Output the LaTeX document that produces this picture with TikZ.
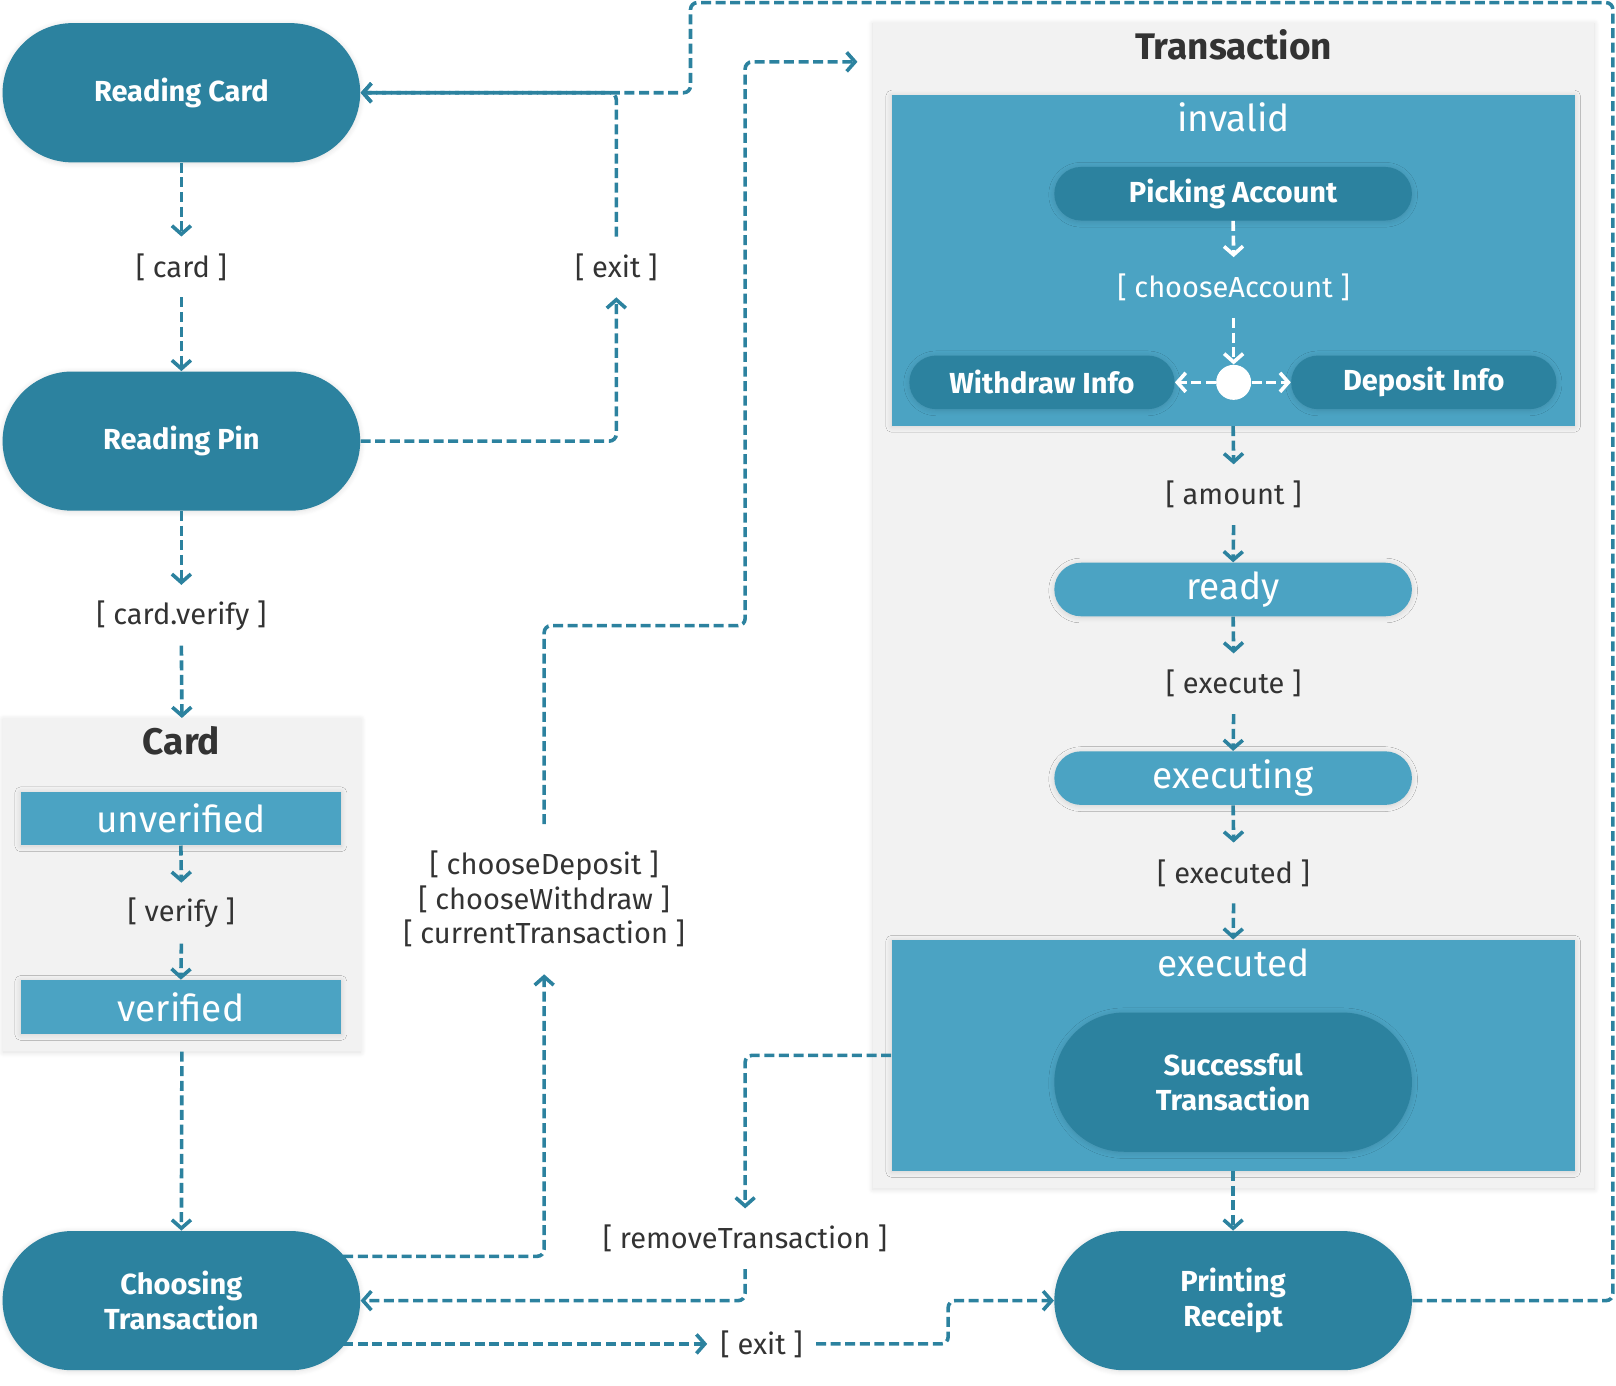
\documentclass[tikz,border=0pt]{standalone}
\usepackage{fontspec}
\setmainfont{Fira Sans}
\usetikzlibrary{shapes.misc,arrows.meta,shadows.blur}
\definecolor{teal1}{RGB}{44,130,159}
\definecolor{lblue}{RGB}{75,163,195}
\definecolor{cgray}{RGB}{242,242,242}
\definecolor{dtext}{RGB}{51,51,51}
\begin{document}
\begin{tikzpicture}[x=0.5153pt,y=-0.5153pt,
  shad/.style={blur shadow={shadow blur steps=12, shadow blur radius=2.8pt, shadow xshift=0pt, shadow yshift=-0.5pt, shadow opacity=13}},
  stad/.style={rounded rectangle, fill=teal1, text=white, font=\bfseries\fontsize{14.5}{17.5}\selectfont, align=center, inner sep=0pt, shad},
  bigstad/.style={stad, minimum width=178.8pt, minimum height=69.6pt},
  smallstad/.style={stad, minimum width=178.8pt, minimum height=26.8pt},
  sidestad/.style={stad, minimum width=132.6pt, minimum height=26.8pt},
  lightstad/.style={smallstad, fill=lblue, font=\fontsize{18.5}{22}\selectfont},
  staterect/.style={rectangle, fill=lblue, text=white, font=\fontsize{18.5}{22}\selectfont, inner sep=0pt, shad},
  container/.style={rectangle, fill=cgray, inner sep=0pt, shad},
  regiontitle/.style={text=white, font=\fontsize{18.5}{22}\selectfont, inner sep=0pt},
  boxtitle/.style={text=dtext, font=\bfseries\fontsize{18.5}{22}\selectfont, inner sep=0pt},
  guard/.style={text=dtext, font=\fontsize{14.5}{17.3}\selectfont, minimum height=30pt, inner ysep=0pt, inner xsep=4pt, align=center},
  wguard/.style={guard, text=white},
  conn/.style={draw=teal1, line width=1.8pt, dash pattern=on 5pt off 2.3pt, rounded corners=3.5pt, -{Straight Barb[length=4.2pt,width=9.5pt]}},
  wconn/.style={conn, draw=white}
]
\useasboundingbox (0,0) rectangle (1568,1344);

% containers
\node[container, minimum width=178.8pt, minimum height=166.4pt] (card) at (176.5,858.5) {};
\node[container, minimum width=360.7pt, minimum height=582.8pt] (trans) at (1197,587.5) {};
\node[staterect, minimum width=341.6pt, minimum height=165.4pt] (inv) at (1196.5,252.5) {};
\node[staterect, minimum width=341.6pt, minimum height=115.4pt] (exe) at (1196.5,1024) {};

% titles
\node[boxtitle] (cardtitle) at (176,719) {Card};
\node[boxtitle] (transtitle) at (1197,43) {Transaction};
\node[regiontitle] (invtitle) at (1197,114) {invalid};
\node[regiontitle] (exetitle) at (1197,934) {executed};

% left column
\node[bigstad] (rc) at (176,90) {Reading Card};
\node[bigstad] (rp) at (176,428) {Reading Pin};
\node[bigstad] (ct) at (176,1262) {Choosing\\Transaction};
\node[staterect, minimum width=160.3pt, minimum height=26.8pt] (unv) at (175.5,794) {unverified};
\node[staterect, minimum width=160.3pt, minimum height=26.8pt] (ver) at (175.5,977) {verified};

% right column
\node[smallstad] (pa) at (1196.5,188) {Picking Account};
\node[sidestad] (wi) at (1011,371) {Withdraw Info};
\node[sidestad] (di) at (1381.5,371) {Deposit Info};
\node[circle, fill=white, minimum size=17.5pt, inner sep=0pt] (fork) at (1197,371) {};
\node[lightstad] (ready) at (1196.5,572) {ready};
\node[lightstad] (exing) at (1196.5,755) {executing};
\node[bigstad] (st) at (1196.5,1050) {Successful\\Transaction};
\node[bigstad] (pr) at (1196.5,1262) {Printing\\Receipt};

% guards
\node[guard] (lcard) at (176,259) {{[} card {]}};
\node[guard] (lcv) at (176,597) {{[} card.verify {]}};
\node[guard] (lver) at (176,886) {{[} verify {]}};
\node[guard] (lexit) at (598,259) {{[} exit {]}};
\node[guard, minimum height=74.7pt] (lmulti) at (528,872.5) {{[} chooseDeposit {]}\\{[} chooseWithdraw {]}\\{[} currentTransaction {]}};
\node[guard] (lrem) at (723,1202) {{[} removeTransaction {]}};
\node[guard, minimum width=54pt] (lexit2) at (739,1304) {{[} exit {]}};
\node[wguard] (lca) at (1197,279) {{[} chooseAccount {]}};
\node[guard] (lamt) at (1197,480) {{[} amount {]}};
\node[guard] (lexec) at (1197,663.5) {{[} execute {]}};
\node[guard] (lexd) at (1197,847) {{[} executed {]}};

% helper coordinates
\coordinate (ltr) at (1565,2.5);
\coordinate (ltl) at (670,2.5);
\coordinate (b1) at (723,607);
\coordinate (tin) at (832,60);
\coordinate (b2) at (920,1283);
\coordinate (ctup) at ([shift={(157,-43)}]ct.center);
\coordinate (ctlow) at ([shift={(157,42)}]ct.center);

% left column connectors
\draw[conn] (rc.south) -- (lcard.north);
\draw[conn] (lcard.south) -- (rp.north);
\draw[conn] (rp.south) -- (lcv.north);
\draw[conn] (lcv.south) -- (card.north);
\draw[conn] (unv.south) -- (lver.north);
\draw[conn] (lver.south) -- (ver.north);
\draw[conn] (card.south) -- (ct.north);
\draw[conn] (rp.east) -| (lexit.south);
\draw[conn] (lexit.north) |- (rc.east);
\draw[conn] (pr.east) -| (ltr) -- (ltl) |- (rc.east);
\draw[conn] (ctup) -| (lmulti.south);
\draw[conn] (lmulti.north) |- (b1) |- (tin);
\draw[conn] (exe.west) -| (lrem.north);
\draw[conn] (lrem.south) |- (ct.east);
\draw[conn] (ctlow) -- (lexit2.west);
\draw[conn] (lexit2.east) -| (b2) |- (pr.west);

% right column connectors
\draw[wconn] (pa.south) -- (lca.north);
\draw[wconn] (lca.south) -- (fork.north);
\draw[wconn] (fork.west) -- (wi.east);
\draw[wconn] (fork.east) -- (di.west);
\draw[conn] (inv.south) -- (lamt.north);
\draw[conn] (lamt.south) -- (ready.north);
\draw[conn] (ready.south) -- (lexec.north);
\draw[conn] (lexec.south) -- (exing.north);
\draw[conn] (exing.south) -- (lexd.north);
\draw[conn] (lexd.south) -- (exe.north);
\draw[conn] (exe.south) -- (pr.north);
\end{tikzpicture}
\end{document}
